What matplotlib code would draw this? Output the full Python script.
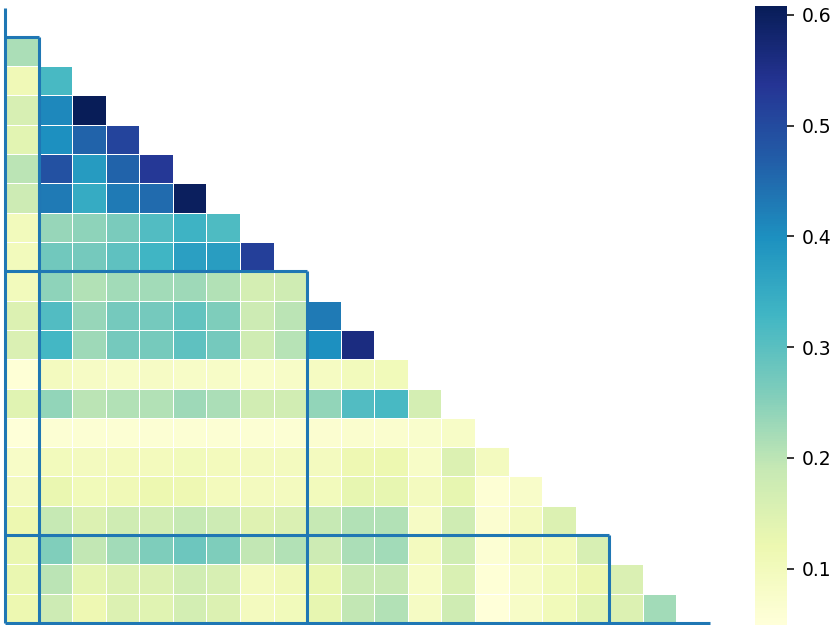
import numpy as np
import matplotlib
matplotlib.use("Agg")
import matplotlib.pyplot as plt
import seaborn as sns

# Pairwise LD (r^2) values, lower triangle: row i holds markers 0..i-1
ld_rows = [
    [0.215],
    [0.11, 0.32],
    [0.16, 0.41, 0.608],
    [0.14, 0.40, 0.46, 0.51],
    [0.20, 0.49, 0.38, 0.46, 0.53],
    [0.18, 0.43, 0.35, 0.43, 0.45, 0.60],
    [0.10, 0.235, 0.245, 0.265, 0.31, 0.335, 0.315],
    [0.10, 0.275, 0.27, 0.295, 0.33, 0.37, 0.375, 0.52],
    [0.10, 0.245, 0.21, 0.225, 0.225, 0.23, 0.21, 0.165, 0.175],
    [0.15, 0.31, 0.235, 0.27, 0.27, 0.29, 0.26, 0.18, 0.20, 0.43],
    [0.155, 0.325, 0.23, 0.27, 0.268, 0.295, 0.27, 0.175, 0.205, 0.40, 0.56],
    [0.055, 0.095, 0.085, 0.08, 0.085, 0.08, 0.08, 0.075, 0.08, 0.09, 0.10, 0.105],
    [0.145, 0.24, 0.20, 0.21, 0.21, 0.23, 0.215, 0.17, 0.17, 0.24, 0.31, 0.32, 0.165],
    [0.052, 0.06, 0.06, 0.062, 0.062, 0.062, 0.062, 0.062, 0.062, 0.065, 0.07, 0.07,
     0.072, 0.08],
    [0.08, 0.10, 0.097, 0.098, 0.098, 0.103, 0.098, 0.095, 0.095, 0.096, 0.115, 0.12,
     0.08, 0.15, 0.096],
    [0.096, 0.125, 0.105, 0.11, 0.12, 0.115, 0.098, 0.095, 0.095, 0.10, 0.13, 0.13,
     0.095, 0.13, 0.058, 0.078],
    [0.12, 0.19, 0.15, 0.175, 0.17, 0.19, 0.18, 0.147, 0.155, 0.19, 0.21, 0.21,
     0.085, 0.175, 0.065, 0.095, 0.15],
    [0.125, 0.258, 0.195, 0.225, 0.26, 0.28, 0.26, 0.195, 0.21, 0.18, 0.215, 0.225,
     0.095, 0.172, 0.062, 0.097, 0.10, 0.16],
    [0.125, 0.20, 0.135, 0.15, 0.15, 0.17, 0.16, 0.097, 0.107, 0.127, 0.185, 0.188,
     0.082, 0.158, 0.055, 0.083, 0.103, 0.122, 0.155],
    [0.12, 0.18, 0.115, 0.15, 0.145, 0.168, 0.15, 0.095, 0.103, 0.13, 0.195, 0.21,
     0.088, 0.175, 0.049, 0.08, 0.105, 0.14, 0.15, 0.225],
]

# Haplotype block boundaries (marker indices)
block_edges = [0, 1, 9, 18, 21]

n = len(ld_rows) + 1
ld = np.full((n, n), np.nan)
for i, row in enumerate(ld_rows, start=1):
    ld[i, :len(row)] = row

fig = plt.figure(figsize=(8.37, 6.25), dpi=100)
ax = fig.add_axes([5 / 837, 2 / 625, 705 / 837, 615.5 / 625])
cax = fig.add_axes([755 / 837, 0 / 625, 32 / 837, 619 / 625])

sns.heatmap(ld, cmap="YlGnBu", linewidths=0.5, linecolor="white",
            xticklabels=False, yticklabels=False, ax=ax, cbar_ax=cax)

# Outline the blocks
for b in block_edges:
    if b > 0:
        ax.hlines(b, 0, b, color="#1f77b4", lw=2.2, clip_on=False, zorder=5)
    ax.vlines(b, b, n, color="#1f77b4", lw=2.2, clip_on=False, zorder=5)

cax.tick_params(labelsize=13.5, length=5, width=1.1, pad=5.5)

fig.savefig("out.png", dpi=100)
